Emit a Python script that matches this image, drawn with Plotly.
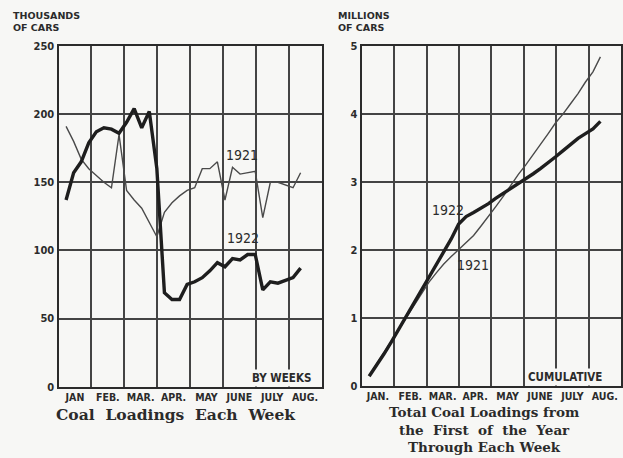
import plotly.graph_objects as go

# ---------------- data ----------------
weeks = list(range(1, 33))  # week number of the year (weekly loadings, Jan - mid Aug)

months_left = ["JAN", "FEB.", "MAR.", "APR.", "MAY", "JUNE", "JULY", "AUG."]
months_right = ["JAN.", "FEB.", "MAR.", "APR.", "MAY", "JUNE", "JULY", "AUG."]

# thousands of cars per week
weekly_1922 = [137, 157, 165, 179, 187, 190, 189, 186, 194, 204, 190, 202,
               160, 69, 64, 64, 75, 77, 80, 85, 91, 88, 94, 93,
               97, 97, 71, 77, 76, 78, 80, 87]
weekly_1921 = [191, 180, 167, 160, 155, 150, 146, 185, 144, 137, 131, 121,
               110, 128, 135, 140, 144, 146, 160, 160, 165, 137, 161, 156,
               157, 158, 124, 150, 150, 148, 146, 157]

# millions of cars, cumulative from Jan 1
cum_1922 = [0.14, 0.30, 0.47, 0.65, 0.84, 1.03, 1.21, 1.39, 1.58, 1.77, 1.96, 2.16,
            2.38, 2.49, 2.55, 2.61, 2.68, 2.76, 2.83, 2.91, 2.98, 3.04, 3.12, 3.20,
            3.28, 3.37, 3.46, 3.55, 3.64, 3.71, 3.78, 3.89]
cum_1921 = [0.15, 0.32, 0.49, 0.66, 0.83, 0.99, 1.16, 1.34, 1.52, 1.66, 1.79, 1.90,
            2.00, 2.10, 2.21, 2.35, 2.49, 2.64, 2.79, 2.95, 3.11, 3.25, 3.40, 3.56,
            3.71, 3.87, 4.00, 4.15, 4.30, 4.47, 4.62, 4.84]

left_y_ticks = [0, 50, 100, 150, 200, 250]
right_y_ticks = [0, 1, 2, 3, 4, 5]

# ---------------- helpers ----------------
W, H = 623, 458
BG = "#f7f7f5"
INK = "#2b2b2b"
GRID = "#444444"
SANS = "DejaVu Sans Condensed, Liberation Sans Narrow, DejaVu Sans, sans-serif"
SERIF = "DejaVu Serif, Liberation Serif, serif"

# x position of each week on a month-based axis (0 = Jan 1, 8 = Sep 1)
x_weeks = [w * 7 / (365 / 12) for w in weeks]


def px(x):
    return x / W


def py(y):
    return 1 - y / H


fig = go.Figure()

thick = dict(color="#1e1e1e", width=3.4)
thin = dict(color="#4a4a4a", width=1.4)

fig.add_trace(go.Scatter(x=x_weeks, y=weekly_1921, mode="lines", line=thin,
                         xaxis="x", yaxis="y", showlegend=False, name="1921"))
fig.add_trace(go.Scatter(x=x_weeks, y=weekly_1922, mode="lines", line=thick,
                         xaxis="x", yaxis="y", showlegend=False, name="1922"))
fig.add_trace(go.Scatter(x=x_weeks, y=cum_1921, mode="lines", line=thin,
                         xaxis="x2", yaxis="y2", showlegend=False, name="1921"))
fig.add_trace(go.Scatter(x=x_weeks, y=cum_1922, mode="lines", line=thick,
                         xaxis="x2", yaxis="y2", showlegend=False, name="1922"))

tickfont = dict(family=SANS, size=10.5, color=INK, weight="bold")

xcommon = dict(
    range=[0, 8], tickvals=[i + 0.5 for i in range(8)],
    showgrid=False, zeroline=False, showline=True, mirror=True,
    linecolor=INK, linewidth=2.2, ticks="", automargin=False,
    minor=dict(tick0=0, dtick=1, showgrid=True, gridcolor=GRID, gridwidth=1.6, ticks=""),
    tickfont=tickfont, fixedrange=True,
)
ycommon = dict(
    showgrid=True, gridcolor=GRID, gridwidth=1.6, zeroline=False,
    showline=True, mirror=True, linecolor=INK, linewidth=2.2, ticks="",
    automargin=False, tickfont=dict(family=SANS, size=11, color=INK, weight="bold"),
    fixedrange=True,
)

fig.update_layout(
    width=W, height=H,
    margin=dict(l=0, r=0, t=0, b=0),
    paper_bgcolor=BG, plot_bgcolor=BG,
    xaxis=dict(xcommon, domain=[px(58.5), px(321.5)], ticktext=months_left, anchor="y"),
    yaxis=dict(ycommon, domain=[py(386.7), py(46)], range=[0, 250],
               tickvals=left_y_ticks, anchor="x"),
    xaxis2=dict(xcommon, domain=[px(361.7), px(621)], ticktext=months_right, anchor="y2"),
    yaxis2=dict(ycommon, domain=[py(385.7), py(46)], range=[0, 5],
                tickvals=right_y_ticks, anchor="x2"),
)

anns = []


def label(text, x, y, size, family=SANS, bold=True, xanchor="center", yanchor="middle",
          bg=None, align="center"):
    d = dict(text=text, x=px(x), y=py(y), xref="paper", yref="paper",
             showarrow=False, xanchor=xanchor, yanchor=yanchor, align=align,
             font=dict(family=family, size=size, color=INK,
                       weight="bold" if bold else "normal"))
    if bg:
        d["bgcolor"] = bg
        d["borderpad"] = 1
    anns.append(d)


# unit labels
label("THOUSANDS<br>OF CARS", 11, 21, 9.5, family="DejaVu Sans, sans-serif",
      xanchor="left", align="left")
label("MILLIONS<br>OF CARS", 336, 21, 9.5, family="DejaVu Sans, sans-serif",
      xanchor="left", align="left")

# series labels
label("1921", 242, 155, 14, bold=False)
label("1922", 243, 238, 14, bold=False)
label("1922", 448, 210, 14, bold=False)
label("1921", 473, 265, 14, bold=False)

# corner notes
label("BY WEEKS", 281, 378, 11.5, bg=BG)
label("CUMULATIVE", 565, 377, 11.5, bg=BG)

# titles
label("Coal  Loadings  Each  Week", 175, 414, 15.5, family=SERIF, bold=True)
label("Total Coal Loadings from<br>the  First  of  the  Year<br>Through Each Week",
      484, 429.5, 13.5, family=SERIF, bold=True)

fig.update_layout(annotations=anns)

fig.write_html(
    "out.html",
    config={"displayModeBar": False},
    post_script="document.body.style.margin='0';document.body.style.background='%s';" % BG,
)
